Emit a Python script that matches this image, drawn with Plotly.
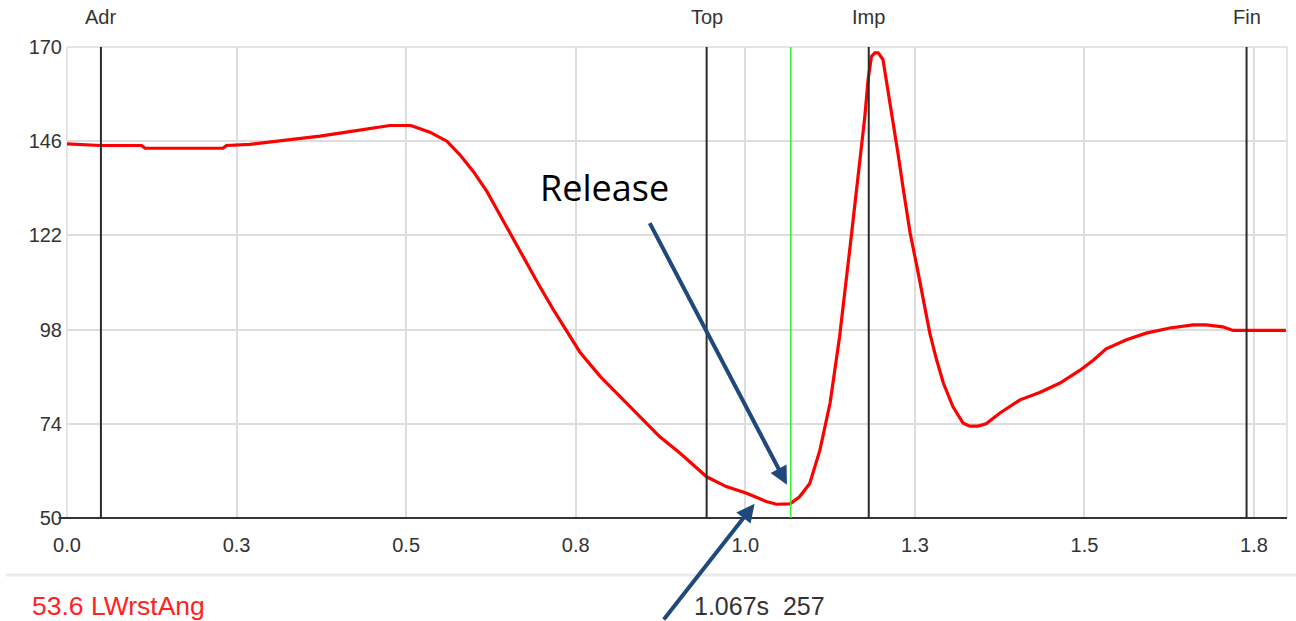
import plotly.graph_objects as go

# ---- data ----
time_s = [0.000, 0.049, 0.110, 0.115, 0.230, 0.235, 0.270, 0.300, 0.333, 0.373,
          0.412, 0.456, 0.476, 0.506, 0.510, 0.535, 0.560, 0.579, 0.599, 0.619,
          0.638, 0.658, 0.678, 0.697, 0.717, 0.737, 0.756, 0.786, 0.815, 0.845,
          0.874, 0.904, 0.933, 0.943, 0.972, 1.002, 1.031, 1.046, 1.066, 1.080,
          1.095, 1.110, 1.125, 1.139, 1.154, 1.166, 1.172, 1.176, 1.181, 1.186,
          1.191, 1.196, 1.203, 1.210, 1.218, 1.225, 1.233, 1.243, 1.253, 1.262,
          1.272, 1.282, 1.292, 1.306, 1.321, 1.331, 1.343, 1.355, 1.375, 1.405,
          1.434, 1.464, 1.493, 1.513, 1.532, 1.562, 1.591, 1.626, 1.660, 1.680,
          1.704, 1.719, 1.797]
wrist_angle = [145.3, 144.9, 144.9, 144.2, 144.2, 144.9, 145.2, 145.8, 146.6, 147.3,
               148.3, 149.4, 150.0, 150.0, 149.8, 148.3, 146.0, 142.6, 138.3, 133.2,
               127.3, 120.9, 114.9, 109.0, 103.1, 97.5, 92.3, 86.1, 81.0, 75.9,
               70.7, 66.5, 62.2, 60.5, 58.0, 56.3, 54.2, 53.5, 53.6, 55.4,
               58.8, 67.3, 79.3, 96.2, 118.4, 136.0, 146.0, 151.9, 161.7, 167.6,
               168.5, 168.5, 166.8, 159.2, 151.5, 143.0, 133.7, 122.6, 114.1, 105.6,
               97.1, 90.3, 84.4, 78.4, 74.2, 73.4, 73.4, 74.0, 76.7, 80.1,
               82.0, 84.4, 87.6, 90.2, 93.1, 95.4, 97.1, 98.4, 99.2, 99.2,
               98.7, 97.8, 97.8]

event_names = ["Adr", "Top", "Imp", "Fin"]
event_times = [0.050, 0.943, 1.182, 1.739]
cursor_time = 1.067
cursor_value = 53.6
cursor_frame = 257
series_name = "LWrstAng"

x_tickvals = [0.0, 0.25, 0.5, 0.75, 1.0, 1.25, 1.5, 1.75]
x_ticktext = ["0.0", "0.3", "0.5", "0.8", "1.0", "1.3", "1.5", "1.8"]
y_tickvals = [50, 74, 98, 122, 146, 170]

# ---- figure ----
W, H = 1296, 621
ML, MR, MT, MB = 67, 9, 47, 103
PW, PH = W - ML - MR, H - MT - MB

fig = go.Figure()
fig.add_trace(go.Scatter(x=time_s, y=wrist_angle, mode="lines",
                         line=dict(color="#ff0000", width=3.2), hoverinfo="skip"))

shapes = []
# light frame (left, top, right)
for (x0, y0, x1, y1) in [(0, 0, 0, 1), (0, 1, 1, 1), (1, 0, 1, 1)]:
    shapes.append(dict(type="line", xref="paper", yref="paper", x0=x0, y0=y0, x1=x1, y1=y1,
                       line=dict(color="#dddddd", width=1.5), layer="below"))
# bottom axis
shapes.append(dict(type="line", xref="paper", yref="paper", x0=-0.007, y0=0, x1=1, y1=0,
                   line=dict(color="#333333", width=2), layer="above"))
# event lines
for t in event_times:
    shapes.append(dict(type="line", xref="x", yref="paper", x0=t, x1=t, y0=0, y1=1,
                       line=dict(color="#2a2a2a", width=2), layer="above"))
# cursor line
shapes.append(dict(type="line", xref="x", yref="paper", x0=cursor_time, x1=cursor_time,
                   y0=0, y1=1, line=dict(color="#33ee33", width=1.5), layer="above"))
# status separator
shapes.append(dict(type="line", xref="paper", yref="paper",
                   x0=(6 - ML) / PW, x1=(W - ML) / PW,
                   y0=(MT + PH - 575) / PH, y1=(MT + PH - 575) / PH,
                   line=dict(color="#ebebeb", width=3)))

annotations = []
for name, t in zip(event_names, event_times):
    annotations.append(dict(x=t, y=1 + 30 / PH, xref="x", yref="paper", text=name,
                            showarrow=False, xanchor="center", yanchor="middle",
                            font=dict(family="Liberation Sans, Arial", size=20, color="#333333")))
annotations.append(dict(x=0.793, y=134.1, xref="x", yref="y", text="Release", showarrow=False,
                        xanchor="center", yanchor="middle",
                        font=dict(family="Open Sans", size=36, color="#000000")))
# arrows
annotations.append(dict(x=1.0614, y=58.5, xref="x", yref="y", text="", showarrow=True,
                        ax=-138, ay=-263, axref="pixel", ayref="pixel",
                        arrowhead=2, arrowsize=0.9, arrowwidth=4, arrowcolor="#1f497d"))
annotations.append(dict(x=1.0137, y=53.6, xref="x", yref="y", text="", showarrow=True,
                        ax=-92, ay=140, axref="pixel", ayref="pixel",
                        arrowhead=2, arrowsize=0.9, arrowwidth=4, arrowcolor="#1f497d"))
# status texts
annotations.append(dict(x=(30 - ML) / PW, y=(MT + PH - 606) / PH, xref="paper", yref="paper",
                        text=f"{cursor_value} {series_name}", showarrow=False,
                        xanchor="left", yanchor="middle",
                        font=dict(family="Liberation Sans, Arial", size=26.5, color="#ff2222")))
annotations.append(dict(x=(692 - ML) / PW, y=(MT + PH - 606) / PH, xref="paper", yref="paper",
                        text=f"{cursor_time:.3f}s\u00a0\u00a0{cursor_frame}", showarrow=False,
                        xanchor="left", yanchor="middle",
                        font=dict(family="Liberation Sans, Arial", size=25, color="#333333")))

fig.update_layout(
    width=W, height=H,
    margin=dict(l=ML, r=MR, t=MT, b=MB),
    paper_bgcolor="white", plot_bgcolor="white",
    showlegend=False,
    shapes=shapes, annotations=annotations,
    xaxis=dict(range=[0, PW / 678.3], tickvals=x_tickvals, ticktext=x_ticktext,
               showgrid=True, gridcolor="#dddddd", gridwidth=1.5, zeroline=False,
               showline=False, ticks="", ticklabelstandoff=13,
               tickfont=dict(family="Liberation Sans, Arial", size=20, color="#333333")),
    yaxis=dict(range=[50, 170], tickvals=y_tickvals,
               showgrid=True, gridcolor="#dddddd", gridwidth=1.5, zeroline=False,
               showline=False, ticks="", ticklabelstandoff=4,
               tickfont=dict(family="Liberation Sans, Arial", size=20, color="#333333")),
)

fig.write_html("out.html")
